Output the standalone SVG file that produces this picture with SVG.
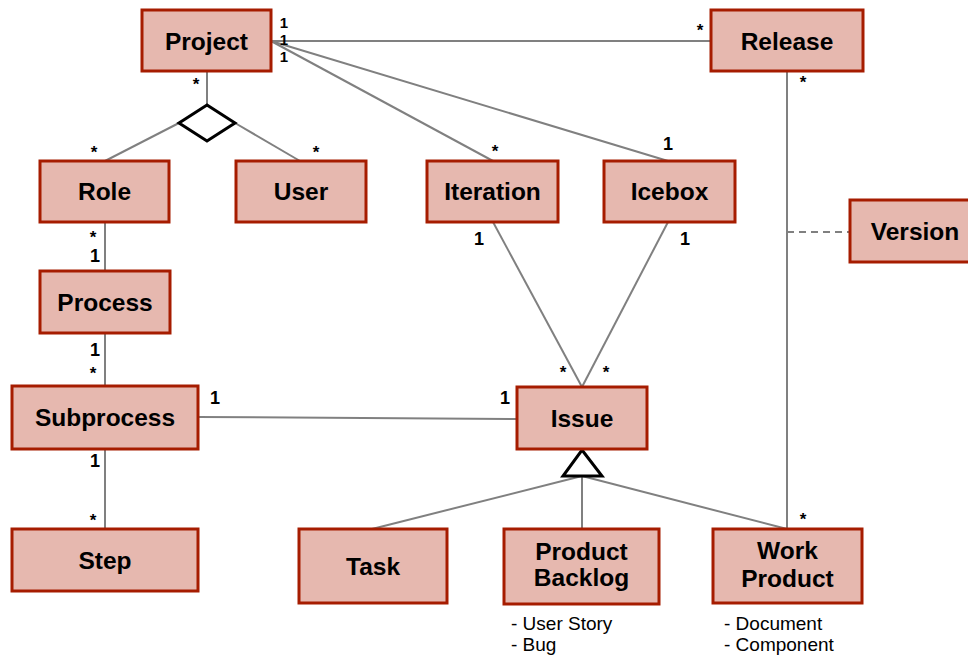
<svg xmlns="http://www.w3.org/2000/svg" width="968" height="659" viewBox="0 0 968 659">
  <defs>
    <style>
      .box { fill: #e6b8af; stroke: #a61c00; stroke-width: 3; }
      .lbl { font-family: "Liberation Sans", Arial, sans-serif; font-weight: bold; font-size: 24.5px; fill: #000; text-anchor: middle; }
      .m { font-family: "Liberation Sans", Arial, sans-serif; font-weight: bold; font-size: 18px; fill: #000; text-anchor: middle; }
      .m1 { font-family: "Liberation Sans", Arial, sans-serif; font-weight: bold; font-size: 15px; fill: #000; text-anchor: middle; }
      .st { font-family: "Liberation Sans", Arial, sans-serif; font-weight: bold; font-size: 17px; fill: #000; text-anchor: middle; }
      .note { font-family: "Liberation Sans", Arial, sans-serif; font-size: 19px; fill: #000; }
      .ln { stroke: #808080; stroke-width: 2; fill: none; }
      .dash { stroke: #808080; stroke-width: 2; fill: none; stroke-dasharray: 7 5; }
      .sym { fill: #fff; stroke: #000; stroke-width: 3; stroke-linejoin: miter; }
    </style>
  </defs>
  <rect width="968" height="659" fill="#fff"/>

  <!-- connectors -->
  <g id="connectors">
    <line class="ln" x1="271" y1="41" x2="711" y2="41"/>
    <line class="ln" x1="271" y1="41" x2="493" y2="161"/>
    <line class="ln" x1="271" y1="41" x2="668" y2="161"/>
    <line class="ln" x1="207" y1="71" x2="207" y2="105"/>
    <line class="ln" x1="179" y1="123" x2="105" y2="161"/>
    <line class="ln" x1="235" y1="123" x2="300" y2="161"/>
    <line class="ln" x1="105" y1="222" x2="105" y2="271"/>
    <line class="ln" x1="105" y1="333" x2="105" y2="386"/>
    <line class="ln" x1="105" y1="449" x2="105" y2="529"/>
    <line class="ln" x1="198" y1="417" x2="517" y2="419"/>
    <line class="ln" x1="493" y1="222" x2="582" y2="387"/>
    <line class="ln" x1="668" y1="222" x2="582" y2="387"/>
    <line class="ln" x1="787" y1="71" x2="787" y2="529"/>
    <line class="dash" x1="787" y1="232" x2="850" y2="232"/>
    <line class="ln" x1="582" y1="476" x2="372" y2="529"/>
    <line class="ln" x1="582" y1="476" x2="582" y2="529"/>
    <line class="ln" x1="582" y1="476" x2="787" y2="529"/>
    <!-- aggregation diamond and generalization triangle -->
    <polygon class="sym" points="207,105 235,123 207,141 179,123"/>
    <polygon class="sym" points="582,450 602,476 563,476"/>
  </g>

  <!-- multiplicities -->
  <g id="multiplicities">
    <text class="m1" x="284" y="28">1</text>
    <text class="m1" x="284" y="45">1</text>
    <text class="m1" x="284" y="62">1</text>
    <text class="st" x="196" y="90">*</text>
    <text class="st" x="94" y="158">*</text>
    <text class="st" x="316" y="158">*</text>
    <text class="st" x="700" y="36">*</text>
    <text class="st" x="803" y="88">*</text>
    <text class="st" x="495" y="157">*</text>
    <text class="m" x="668" y="150">1</text>
    <text class="m" x="479" y="245">1</text>
    <text class="m" x="685" y="245">1</text>
    <text class="st" x="93" y="243">*</text>
    <text class="m" x="95" y="262">1</text>
    <text class="m" x="95" y="356">1</text>
    <text class="st" x="93" y="379">*</text>
    <text class="m" x="215" y="404">1</text>
    <text class="m" x="505" y="404">1</text>
    <text class="m" x="95" y="467">1</text>
    <text class="st" x="93" y="526">*</text>
    <text class="st" x="563" y="378">*</text>
    <text class="st" x="606" y="378">*</text>
    <text class="st" x="803" y="525">*</text>
  </g>

  <!-- class nodes -->
  <g id="project"><rect class="box" x="142" y="10" width="129" height="61"/><text class="lbl" x="206.5" y="49.5">Project</text></g>
  <g id="release"><rect class="box" x="711" y="10" width="152" height="61"/><text class="lbl" x="787" y="49.5">Release</text></g>
  <g id="role"><rect class="box" x="40" y="161" width="129" height="61"/><text class="lbl" x="104.5" y="200">Role</text></g>
  <g id="user"><rect class="box" x="236" y="161" width="130" height="61"/><text class="lbl" x="301" y="200">User</text></g>
  <g id="iteration"><rect class="box" x="427" y="161" width="131" height="61"/><text class="lbl" x="492.5" y="200">Iteration</text></g>
  <g id="icebox"><rect class="box" x="604" y="161" width="131" height="61"/><text class="lbl" x="669.5" y="200">Icebox</text></g>
  <g id="version"><rect class="box" x="850" y="200" width="130" height="62"/><text class="lbl" x="915" y="240">Version</text></g>
  <g id="process"><rect class="box" x="40" y="271" width="130" height="62"/><text class="lbl" x="105" y="310.5">Process</text></g>
  <g id="subprocess"><rect class="box" x="12" y="386" width="186" height="63"/><text class="lbl" x="105" y="426">Subprocess</text></g>
  <g id="issue"><rect class="box" x="517" y="387" width="130" height="62"/><text class="lbl" x="582" y="426.5">Issue</text></g>
  <g id="step"><rect class="box" x="12" y="529" width="186" height="62"/><text class="lbl" x="105" y="569">Step</text></g>
  <g id="task"><rect class="box" x="299" y="529" width="148" height="74"/><text class="lbl" x="373" y="575">Task</text></g>
  <g id="product-backlog"><rect class="box" x="504" y="529" width="155" height="75"/><text class="lbl" x="581.5" y="560">Product</text><text class="lbl" x="581.5" y="586">Backlog</text>
    <text class="note" x="511" y="630">- User Story</text><text class="note" x="511" y="651">- Bug</text></g>
  <g id="work-product"><rect class="box" x="713" y="529" width="149" height="74"/><text class="lbl" x="787.5" y="559">Work</text><text class="lbl" x="787.5" y="587">Product</text>
    <text class="note" x="724" y="630">- Document</text><text class="note" x="724" y="651">- Component</text></g>
</svg>
